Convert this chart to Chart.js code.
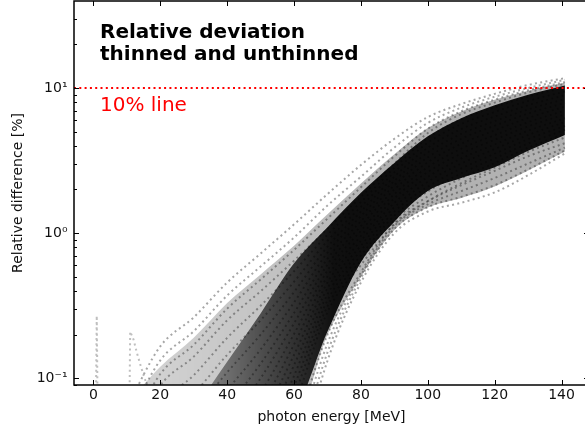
<!DOCTYPE html>
<html>
<head>
<meta charset="utf-8">
<script src="https://cdn.jsdelivr.net/npm/chart.js@4.4.1/dist/chart.umd.min.js"></script>
<style>
  html, body { margin: 0; padding: 0; background: #fff; overflow: hidden; }
  #wrap { width: 585px; height: 432px; overflow: hidden; }
</style>
</head>
<body>
<div id="wrap"><canvas id="chart" width="600" height="432"></canvas></div>
<script>
// photon energy grid [MeV]
const energy = [10, 20, 30, 40, 50, 60, 70, 80, 90, 100, 110, 120, 130, 141];

// relative difference [%] of the runs (top of band to bottom)
const run01 = [0.063, 0.166, 0.263, 0.457, 0.724, 1.15, 1.86, 2.95, 4.47, 6.31, 7.76, 9.12, 10.5, 11.7];
const run02 = [0.05, 0.133, 0.211, 0.372, 0.589, 0.933, 1.55, 2.45, 3.89, 5.75, 7.33, 8.71, 10.0, 11.4];
const run03 = [0.04, 0.107, 0.17, 0.302, 0.479, 0.767, 1.26, 2.07, 3.39, 5.25, 6.92, 8.32, 9.66, 11.0];
const run04 = [0.032, 0.089, 0.141, 0.251, 0.398, 0.646, 1.07, 1.78, 3.02, 4.90, 6.61, 7.94, 9.33, 10.7];
const run05 = [0.022, 0.065, 0.105, 0.19, 0.316, 0.547, 0.975, 1.64, 2.82, 4.53, 6.11, 7.38, 8.73, 10.1];
const run06 = [null, 0.047, 0.078, 0.145, 0.251, 0.463, 0.887, 1.52, 2.63, 4.20, 5.65, 6.85, 8.15, 9.48];
const run07 = [null, 0.034, 0.058, 0.11, 0.20, 0.393, 0.807, 1.41, 2.45, 3.88, 5.22, 6.37, 7.62, 8.93];
const run08 = [null, 0.025, 0.043, 0.083, 0.158, 0.333, 0.734, 1.31, 2.29, 3.60, 4.83, 5.92, 7.13, 8.40];
const run09 = [null, null, 0.032, 0.063, 0.126, 0.282, 0.668, 1.21, 2.14, 3.33, 4.47, 5.50, 6.67, 7.91];
const run10 = [null, null, 0.023, 0.048, 0.10, 0.239, 0.608, 1.12, 2.0, 3.08, 4.13, 5.11, 6.22, 7.45];
const run11 = [null, null, null, 0.036, 0.079, 0.202, 0.553, 1.04, 1.86, 2.85, 3.82, 4.74, 5.82, 7.0];
const run12 = [null, null, null, 0.028, 0.063, 0.171, 0.504, 0.957, 1.74, 2.64, 3.53, 4.41, 5.44, 6.59];
const run13 = [null, null, null, 0.021, 0.05, 0.145, 0.458, 0.887, 1.62, 2.44, 3.27, 4.09, 5.08, 6.19];
const run14 = [null, null, null, null, 0.04, 0.123, 0.417, 0.82, 1.51, 2.26, 3.02, 3.80, 4.75, 5.83];
const run15 = [null, null, null, null, 0.032, 0.104, 0.379, 0.759, 1.41, 2.09, 2.79, 3.53, 4.44, 5.48];
const run16 = [null, null, null, null, 0.025, 0.088, 0.345, 0.703, 1.32, 1.94, 2.58, 3.28, 4.15, 5.16];
const run17 = [null, null, null, null, 0.02, 0.075, 0.314, 0.65, 1.23, 1.79, 2.39, 3.05, 3.88, 4.86];
const run18 = [null, null, null, null, 0.016, 0.063, 0.286, 0.603, 1.15, 1.66, 2.21, 2.83, 3.63, 4.57];
const run19 = [null, null, null, null, null, 0.04, 0.20, 0.537, 1.17, 1.66, 2.14, 2.69, 3.39, 4.17];
const run20 = [null, null, null, null, null, 0.032, 0.174, 0.513, 1.12, 1.58, 1.95, 2.40, 3.02, 3.89];
const run21 = [null, null, null, null, null, 0.025, 0.151, 0.49, 1.07, 1.51, 1.78, 2.14, 2.75, 3.72];
const run22 = [null, null, null, null, null, 0.02, 0.132, 0.457, 1.0, 1.41, 1.62, 1.91, 2.51, 3.55];
const runs = [run01, run02, run03, run04, run05, run06, run07, run08, run09, run10, run11,
  run12, run13, run14, run15, run16, run17, run18, run19, run20, run21, run22];

// whole spread of the runs (light grey haze)
const bandEnergy = [14, 20, 30, 40, 50, 60, 70, 80, 90, 100, 110, 120, 130, 141];
const bandTop = [0.085, 0.12, 0.19, 0.33, 0.52, 0.82, 1.35, 2.2, 3.5, 5.3, 6.9, 8.3, 9.6, 10.9];
const bandBottom = [0.05, 0.05, 0.05, 0.05, 0.05, 0.05, 0.2, 0.5, 1.05, 1.5, 1.75, 2.1, 2.7, 3.65];

// where the runs pile up into a solid black band
const coreEnergy = [30, 40, 50, 60, 70, 80, 90, 100, 110, 120, 130, 141];
const coreTop = [0.06, 0.13, 0.28, 0.62, 1.1, 1.9, 3.05, 4.65, 6.2, 7.6, 9.0, 10.4];
const coreBottom = [0.05, 0.05, 0.05, 0.06, 0.21, 0.63, 1.2, 1.95, 2.4, 2.85, 3.7, 4.75];

// two stray runs at low energy
const spikeEnergy = [0, 1, 2];
const spikeValues = [0.001, 0.27, 0.001];
const bumpEnergy = [10, 11, 12, 13, 14, 15, 16];
const bumpValues = [0.001, 0.21, 0.185, 0.15, 0.125, 0.105, 0.09];

const limitLevel = 10;
const xTicks = [0, 20, 40, 60, 80, 100, 120, 140];
const yTicks = [0.1, 1, 10];
const yTickLabels = ["10\u207B\u00B9", "10\u2070", "10\u00B9"];

const X_MIN = -5.8, X_MAX = 148.2;
const Y_MIN = 0.0899, Y_MAX = 39.8;
const DOT = [2, 3.3];

function toPoints(xs, ys) {
  return xs.map((x, i) => ({ x: x, y: ys[i] }));
}

function xGradient(from, to, a0, a1) {
  return (c) => {
    const chart = c.chart;
    if (!chart.chartArea) return "rgba(0,0,0," + a1 + ")";
    const sx = chart.scales.x;
    const g = chart.ctx.createLinearGradient(sx.getPixelForValue(from), 0, sx.getPixelForValue(to), 0);
    g.addColorStop(0, "rgba(0,0,0," + a0 + ")");
    g.addColorStop(1, "rgba(0,0,0," + a1 + ")");
    return g;
  };
}

//==========================================================================
// datasets (first one is drawn on top)
const datasets = [];
datasets.push({
  data: toPoints([X_MIN, X_MAX], [limitLevel, limitLevel]),
  borderColor: "#ff0000",
  borderWidth: 2,
  borderDash: DOT,
  tension: 0,
});
runs.forEach((r) => {
  datasets.push({
    data: toPoints(energy, r),
    borderColor: "rgba(0,0,0,0.35)",
    borderWidth: 2,
    borderDash: DOT,
    cubicInterpolationMode: "monotone",
  });
});
datasets.push({
  data: toPoints(spikeEnergy, spikeValues),
  borderColor: "rgba(0,0,0,0.25)",
  borderWidth: 2,
  borderDash: DOT,
  tension: 0,
});
datasets.push({
  data: toPoints(bumpEnergy, bumpValues),
  borderColor: "rgba(0,0,0,0.25)",
  borderWidth: 2,
  borderDash: DOT,
  tension: 0,
});
datasets.push({
  data: toPoints(coreEnergy, coreBottom),
  borderWidth: 0,
  borderColor: "rgba(0,0,0,0)",
  cubicInterpolationMode: "monotone",
});
datasets.push({
  data: toPoints(coreEnergy, coreTop),
  borderWidth: 0,
  borderColor: "rgba(0,0,0,0)",
  cubicInterpolationMode: "monotone",
  fill: "-1",
  backgroundColor: xGradient(30, 72, 0.3, 0.92),
});
datasets.push({
  data: toPoints(bandEnergy, bandBottom),
  borderWidth: 0,
  borderColor: "rgba(0,0,0,0)",
  cubicInterpolationMode: "monotone",
});
datasets.push({
  data: toPoints(bandEnergy, bandTop),
  borderWidth: 0,
  borderColor: "rgba(0,0,0,0)",
  cubicInterpolationMode: "monotone",
  fill: "-1",
  backgroundColor: xGradient(20, 90, 0.18, 0.3),
});

//==========================================================================
// frame: spines, inward ticks and the texts inside the axes
const frame = {
  id: "frame",
  afterDraw(chart) {
    const { ctx, chartArea: a, scales } = chart;
    const sx = scales.x, sy = scales.y;
    ctx.save();
    ctx.strokeStyle = "#000";
    ctx.lineWidth = 1;
    ctx.beginPath();
    xTicks.forEach((v) => {
      const px = Math.round(sx.getPixelForValue(v)) + 0.5;
      ctx.moveTo(px, a.bottom);
      ctx.lineTo(px, a.bottom - 5);
      ctx.moveTo(px, a.top);
      ctx.lineTo(px, a.top + 5);
    });
    for (let e = -2; e <= 1; e++) {
      for (let m = 1; m <= 9; m++) {
        const v = m * Math.pow(10, e);
        if (v < Y_MIN || v > Y_MAX) continue;
        const py = Math.round(sy.getPixelForValue(v)) + 0.5;
        const len = m === 1 ? 5 : 3;
        ctx.moveTo(a.left, py);
        ctx.lineTo(a.left + len, py);
        ctx.moveTo(a.right, py);
        ctx.lineTo(a.right - len, py);
      }
    }
    ctx.stroke();

    ctx.lineWidth = 1.5;
    ctx.strokeRect(a.left, a.top, a.right - a.left, a.bottom - a.top);

    ctx.textBaseline = "alphabetic";
    ctx.textAlign = "left";
    ctx.fillStyle = "#000";
    ctx.font = "bold 20px 'DejaVu Sans'";
    ctx.fillText("Relative deviation", 100, 38);
    ctx.fillText("thinned and unthinned", 100, 60);
    ctx.fillStyle = "#ff0000";
    ctx.font = "20px 'DejaVu Sans'";
    ctx.fillText("10% line", 100, 111);
    ctx.restore();
  },
};

const tickFont = { family: "DejaVu Sans", size: 14 };

new Chart(document.getElementById("chart"), {
  type: "line",
  data: { datasets: datasets },
  options: {
    responsive: false,
    animation: false,
    events: [],
    devicePixelRatio: 1,
    layout: { padding: { top: 1, right: 11, bottom: 0, left: 0 } },
    elements: { point: { radius: 0 }, line: { fill: false, borderCapStyle: "butt" } },
    plugins: { legend: { display: false }, tooltip: { enabled: false } },
    scales: {
      x: {
        type: "linear",
        min: X_MIN,
        max: X_MAX,
        afterBuildTicks: (s) => {
          s.ticks = xTicks.map((v) => ({ value: v }));
        },
        afterFit: (s) => {
          s.height = 47;
          s.paddingLeft = 0;
          s.paddingRight = 0;
        },
        ticks: { font: tickFont, color: "#111", padding: 2, maxRotation: 0, autoSkip: false },
        grid: { display: false, drawTicks: false },
        border: { display: false },
        title: {
          display: true,
          text: "photon energy [MeV]",
          font: tickFont,
          color: "#111",
          padding: { top: 0, bottom: 6 },
        },
      },
      y: {
        type: "logarithmic",
        min: Y_MIN,
        max: Y_MAX,
        afterBuildTicks: (s) => {
          s.ticks = yTicks.map((v) => ({ value: v }));
        },
        afterFit: (s) => {
          s.width = 74;
          s.paddingTop = 0;
          s.paddingBottom = 0;
        },
        ticks: {
          font: tickFont,
          color: "#111",
          padding: 6.5,
          autoSkip: false,
          callback: (v, i) => yTickLabels[i],
        },
        grid: { display: false, drawTicks: false },
        border: { display: false },
        title: {
          display: true,
          text: "Relative difference [%]",
          font: tickFont,
          color: "#111",
          padding: { top: 10, bottom: 0 },
        },
      },
    },
  },
  plugins: [frame],
});
</script>
</body>
</html>
